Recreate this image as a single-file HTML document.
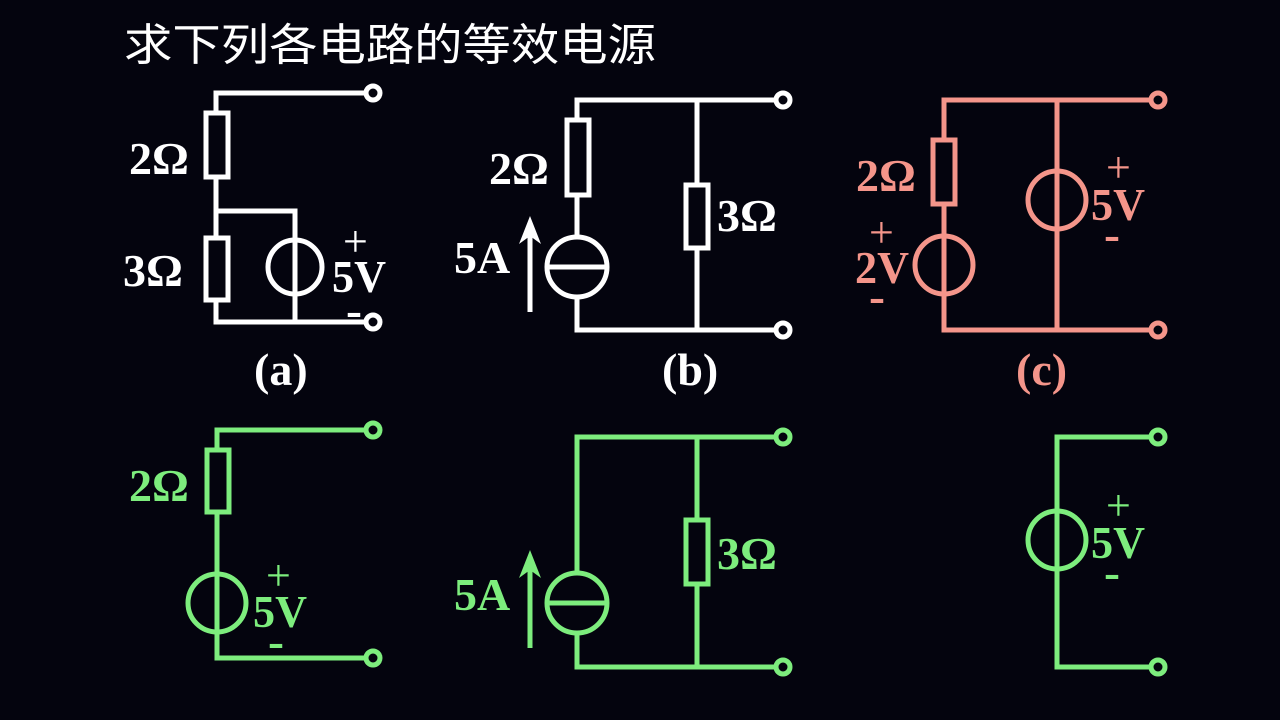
<!DOCTYPE html>
<html><head><meta charset="utf-8"><style>
html,body{margin:0;padding:0;background:#04040e;width:1280px;height:720px;overflow:hidden}
svg{display:block}
text{font-family:"Liberation Serif",serif;font-weight:bold}
</style></head><body>
<svg width="1280" height="720" viewBox="0 0 1280 720" xmlns="http://www.w3.org/2000/svg">
<rect width="1280" height="720" fill="#04040e"/>
<text x="124" y="60" fill="#fff" font-size="44" style="font-family:'Liberation Sans','Noto Sans CJK SC',sans-serif;font-weight:normal" textLength="532" lengthAdjust="spacingAndGlyphs">求下列各电路的等效电源</text>

<!-- (a) white -->
<g stroke="#fff" stroke-width="5" fill="none">
<polyline points="366,93 216,93 216,113"/>
<rect x="206" y="113" width="22" height="64"/>
<polyline points="216,177 216,238"/>
<polyline points="216,211 295,211 295,322"/>
<rect x="206" y="238" width="22" height="62"/>
<polyline points="216,300 216,322 366,322"/>
<circle cx="295" cy="267" r="27"/>
<circle cx="373" cy="93" r="7"/>
<circle cx="373" cy="322" r="7"/>
</g>
<g fill="#fff" font-size="46">
<text x="129" y="174">2Ω</text>
<text x="123" y="286">3Ω</text>
<text x="343" y="256" font-size="44" style="font-weight:normal">+</text>
<text x="332" y="292" textLength="54" lengthAdjust="spacingAndGlyphs">5V</text>
<text x="346" y="326" font-size="48">-</text>
<text x="254" y="385">(a)</text>
</g>

<!-- (b) white -->
<g stroke="#fff" stroke-width="5" fill="none">
<polyline points="776,100 577,100 577,120"/>
<rect x="567" y="120" width="22" height="75"/>
<line x1="577" y1="195" x2="577" y2="237"/>
<circle cx="577" cy="267" r="30"/>
<line x1="547" y1="267" x2="607" y2="267"/>
<polyline points="577,297 577,330 776,330"/>
<line x1="697" y1="100" x2="697" y2="185"/>
<rect x="686" y="185" width="22" height="63"/>
<line x1="697" y1="248" x2="697" y2="330"/>
<circle cx="783" cy="100" r="7"/>
<circle cx="783" cy="330" r="7"/>
<line x1="530" y1="312" x2="530" y2="226"/>
</g>
<polygon points="530,216 519,244 530,236 541,244" fill="#fff"/>
<g fill="#fff" font-size="46">
<text x="489" y="184">2Ω</text>
<text x="717" y="231">3Ω</text>
<text x="454" y="273">5A</text>
<text x="662" y="385">(b)</text>
</g>

<!-- (c) salmon -->
<g stroke="#f4958a" stroke-width="5" fill="none">
<polyline points="1151,100 944,100 944,140"/>
<rect x="933" y="140" width="22" height="64"/>
<line x1="944" y1="204" x2="944" y2="236"/>
<circle cx="944" cy="265" r="29"/>
<polyline points="944,236 944,330 1151,330"/>
<line x1="1057" y1="100" x2="1057" y2="330"/>
<circle cx="1057" cy="200" r="29"/>
<circle cx="1158" cy="100" r="7"/>
<circle cx="1158" cy="330" r="7"/>
</g>
<g fill="#f4958a" font-size="46">
<text x="856" y="191">2Ω</text>
<text x="869" y="247" font-size="44" style="font-weight:normal">+</text>
<text x="855" y="283" textLength="54" lengthAdjust="spacingAndGlyphs">2V</text>
<text x="869" y="312" font-size="48">-</text>
<text x="1106" y="182" font-size="44" style="font-weight:normal">+</text>
<text x="1091" y="220" textLength="54" lengthAdjust="spacingAndGlyphs">5V</text>
<text x="1104" y="250" font-size="48">-</text>
<text x="1016" y="385">(c)</text>
</g>

<!-- green row -->
<g stroke="#7ded7d" stroke-width="5" fill="none">
<polyline points="366,430 217,430 217,450"/>
<rect x="207" y="450" width="22" height="62"/>
<polyline points="217,512 217,658 366,658"/>
<circle cx="217" cy="603" r="29"/>
<circle cx="373" cy="430" r="7"/>
<circle cx="373" cy="658" r="7"/>

<polyline points="776,437 577,437 577,573"/>
<circle cx="577" cy="603" r="30"/>
<line x1="547" y1="603" x2="607" y2="603"/>
<polyline points="577,633 577,667 776,667"/>
<line x1="697" y1="437" x2="697" y2="520"/>
<rect x="686" y="520" width="22" height="64"/>
<line x1="697" y1="584" x2="697" y2="667"/>
<circle cx="783" cy="437" r="7"/>
<circle cx="783" cy="667" r="7"/>
<line x1="530" y1="648" x2="530" y2="560"/>

<polyline points="1151,437 1057,437 1057,667 1151,667"/>
<circle cx="1057" cy="540" r="29"/>
<circle cx="1158" cy="437" r="7"/>
<circle cx="1158" cy="667" r="7"/>
</g>
<polygon points="530,550 519,578 530,570 541,578" fill="#7ded7d"/>
<g fill="#7ded7d" font-size="46">
<text x="129" y="501">2Ω</text>
<text x="266" y="590" font-size="44" style="font-weight:normal">+</text>
<text x="253" y="627" textLength="54" lengthAdjust="spacingAndGlyphs">5V</text>
<text x="268" y="657" font-size="48">-</text>
<text x="717" y="569">3Ω</text>
<text x="454" y="610">5A</text>
<text x="1106" y="520" font-size="44" style="font-weight:normal">+</text>
<text x="1091" y="558" textLength="54" lengthAdjust="spacingAndGlyphs">5V</text>
<text x="1104" y="588" font-size="48">-</text>
</g>
</svg>
</body></html>
